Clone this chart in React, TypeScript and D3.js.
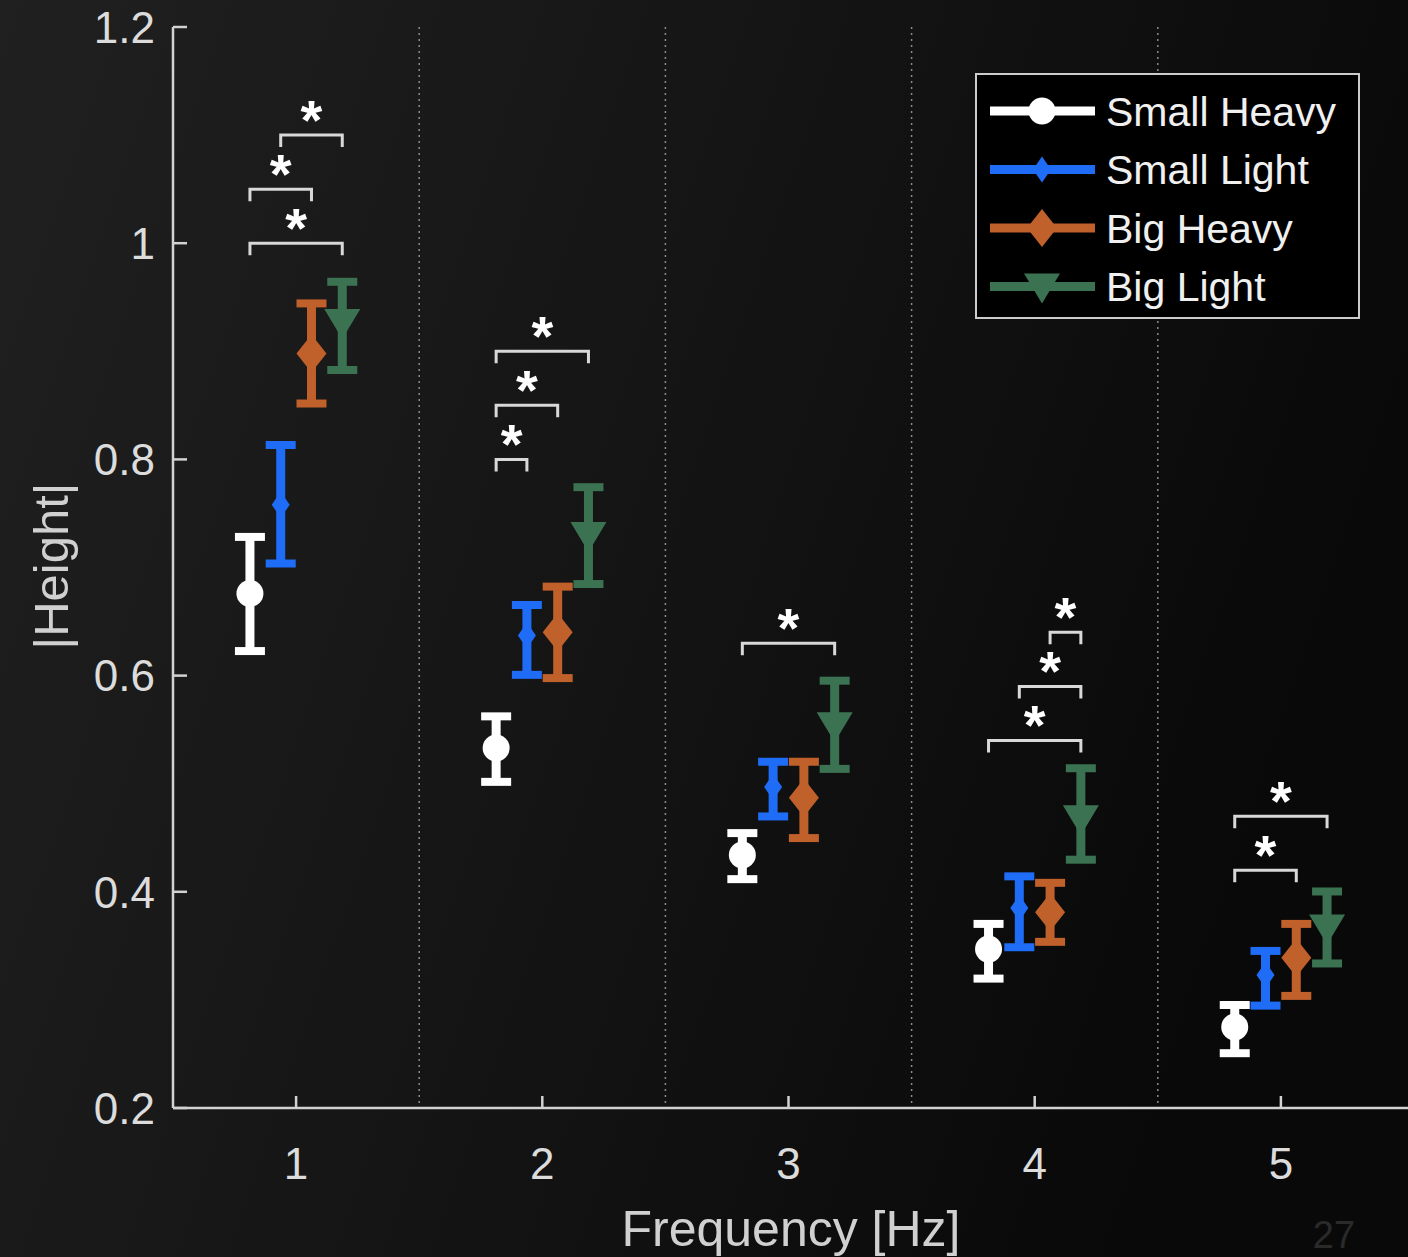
import React from "react";
import * as d3 from "d3";

// chart values
const frequencies = [1, 2, 3, 4, 5];
const seriesNames = ["Small Heavy", "Small Light", "Big Heavy", "Big Light"];
const seriesColors = ["#ffffff", "#1f6cf7", "#c0602a", "#3b7352"];
const seriesOffsets = [-0.1875, -0.0625, 0.0625, 0.1875];

const smallHeavyMean = [0.676, 0.533, 0.434, 0.347, 0.275];
const smallHeavyLow = [0.619, 0.498, 0.408, 0.316, 0.247];
const smallHeavyHigh = [0.732, 0.566, 0.458, 0.374, 0.299];

const smallLightMean = [0.758, 0.637, 0.497, 0.385, 0.323];
const smallLightLow = [0.7, 0.597, 0.466, 0.345, 0.291];
const smallLightHigh = [0.817, 0.669, 0.524, 0.418, 0.349];

const bigHeavyMean = [0.898, 0.64, 0.487, 0.381, 0.339];
const bigHeavyLow = [0.848, 0.594, 0.446, 0.35, 0.3];
const bigHeavyHigh = [0.948, 0.686, 0.524, 0.412, 0.374];

const bigLightMean = [0.927, 0.73, 0.554, 0.468, 0.367];
const bigLightLow = [0.879, 0.681, 0.51, 0.426, 0.33];
const bigLightHigh = [0.968, 0.778, 0.599, 0.518, 0.404];

// significance brackets: [frequency, from series, to series, level]
const brackets: [number, number, number, number][] = [
  [1, 0, 3, 1.0],
  [1, 0, 2, 1.05],
  [1, 1, 3, 1.1],
  [2, 0, 3, 0.9],
  [2, 0, 2, 0.85],
  [2, 0, 1, 0.8],
  [3, 0, 3, 0.63],
  [4, 0, 3, 0.54],
  [4, 1, 3, 0.59],
  [4, 2, 3, 0.64],
  [5, 0, 3, 0.47],
  [5, 0, 2, 0.42],
];

const yTicks = [0.2, 0.4, 0.6, 0.8, 1, 1.2];
const separators = [1.5, 2.5, 3.5, 4.5];

const means = [smallHeavyMean, smallLightMean, bigHeavyMean, bigLightMean];
const lows = [smallHeavyLow, smallLightLow, bigHeavyLow, bigLightLow];
const highs = [smallHeavyHigh, smallLightHigh, bigHeavyHigh, bigLightHigh];

const W = 1408;
const H = 1257;
const FONT = "'Liberation Sans', Arial, sans-serif";

function Marker({ kind, x, y, color }: { kind: number; x: number; y: number; color: string }) {
  if (kind === 0) return <circle cx={x} cy={y} r={13.5} fill={color} />;
  if (kind === 1)
    return <path d={`M${x},${y - 13}L${x + 9},${y}L${x},${y + 13}L${x - 9},${y}Z`} fill={color} />;
  if (kind === 2)
    return <path d={`M${x},${y - 19}L${x + 15},${y}L${x},${y + 19}L${x - 15},${y}Z`} fill={color} />;
  return <path d={`M${x - 18},${y - 13}L${x + 18},${y - 13}L${x},${y + 17}Z`} fill={color} />;
}

export default function App() {
  const x = d3.scaleLinear().domain([0.5, 5.5]).range([173, 1404]);
  const y = d3.scaleLinear().domain([0.2, 1.2]).range([1108, 27]);
  const axisColor = "#d2d2d2";
  const capW = 15;

  return (
    <svg width={W} height={H} style={{ position: "absolute", left: 0, top: 0 }} fontFamily={FONT}>
      <defs>
        <linearGradient id="bg" x1="0" y1="0" x2="1" y2="0.3">
          <stop offset="0" stopColor="#202020" />
          <stop offset="0.5" stopColor="#151515" />
          <stop offset="1" stopColor="#090909" />
        </linearGradient>
      </defs>
      <rect width={W} height={H} fill="url(#bg)" />

      {/* dotted group separators */}
      {separators.map((s) => (
        <line key={s} x1={x(s)} x2={x(s)} y1={y(1.2)} y2={y(0.2)} stroke="#8a8a8a" strokeWidth={1.5} strokeDasharray="2,4" />
      ))}

      {/* axes */}
      <line x1={x(0.5)} x2={x(0.5)} y1={y(1.2)} y2={y(0.2)} stroke={axisColor} strokeWidth={2.5} />
      <line x1={x(0.5)} x2={W} y1={y(0.2)} y2={y(0.2)} stroke={axisColor} strokeWidth={2.5} />
      {yTicks.map((t) => (
        <g key={t}>
          <line x1={x(0.5)} x2={x(0.5) + 14} y1={y(t)} y2={y(t)} stroke={axisColor} strokeWidth={2.5} />
          <text x={155} y={y(t)} dy="0.36em" textAnchor="end" fontSize={44} fill="#dcdcdc">
            {d3.format("~g")(t)}
          </text>
        </g>
      ))}
      {frequencies.map((f) => (
        <g key={f}>
          <line x1={x(f)} x2={x(f)} y1={y(0.2)} y2={y(0.2) - 12} stroke={axisColor} strokeWidth={2.5} />
          <text x={x(f)} y={1163} dy="0.36em" textAnchor="middle" fontSize={44} fill="#dcdcdc">
            {f}
          </text>
        </g>
      ))}
      <text x={791} y={1228} dy="0.36em" textAnchor="middle" fontSize={50} fill="#d0d0d0">
        Frequency [Hz]
      </text>
      <text transform="translate(50,566) rotate(-90)" dy="0.36em" textAnchor="middle" fontSize={49} fill="#d0d0d0">
        |Height|
      </text>

      {/* error bars */}
      {means.map((m, si) =>
        frequencies.map((f, fi) => {
          const cx = x(f + seriesOffsets[si]);
          const c = seriesColors[si];
          return (
            <g key={`${si}-${fi}`}>
              <line x1={cx} x2={cx} y1={y(lows[si][fi]) - 4} y2={y(highs[si][fi]) + 4} stroke={c} strokeWidth={9} />
              <line x1={cx - capW} x2={cx + capW} y1={y(highs[si][fi]) + 4} y2={y(highs[si][fi]) + 4} stroke={c} strokeWidth={8} />
              <line x1={cx - capW} x2={cx + capW} y1={y(lows[si][fi]) - 4} y2={y(lows[si][fi]) - 4} stroke={c} strokeWidth={8} />
              <Marker kind={si} x={cx} y={y(m[fi])} color={c} />
            </g>
          );
        })
      )}

      {/* significance brackets */}
      {brackets.map(([f, a, b, lvl], i) => {
        const x1 = x(f + seriesOffsets[a]);
        const x2 = x(f + seriesOffsets[b]);
        const yy = y(lvl);
        return (
          <g key={i}>
            <path d={`M${x1},${yy + 12}V${yy}H${x2}V${yy + 12}`} fill="none" stroke="#d8d8d8" strokeWidth={3} />
            <text x={(x1 + x2) / 2} y={yy + 4} textAnchor="middle" fontSize={56} fontWeight="bold" fill="#ffffff">
              *
            </text>
          </g>
        );
      })}

      {/* legend */}
      <g>
        <rect x={976} y={74} width={383} height={244} fill="#000000" stroke="#cccccc" strokeWidth={2} />
        {seriesNames.map((name, i) => {
          const ry = 111 + i * 58.5;
          return (
            <g key={name}>
              <line x1={990} x2={1095} y1={ry} y2={ry} stroke={seriesColors[i]} strokeWidth={9} />
              <Marker kind={i} x={1042} y={ry} color={seriesColors[i]} />
              <text x={1106} y={ry} dy="0.36em" fontSize={41} fill="#f0f0f0">
                {name}
              </text>
            </g>
          );
        })}
      </g>

      <text x={1334} y={1234} dy="0.36em" textAnchor="middle" fontSize={38} fill="#2a2a2a">
        27
      </text>
    </svg>
  );
}
